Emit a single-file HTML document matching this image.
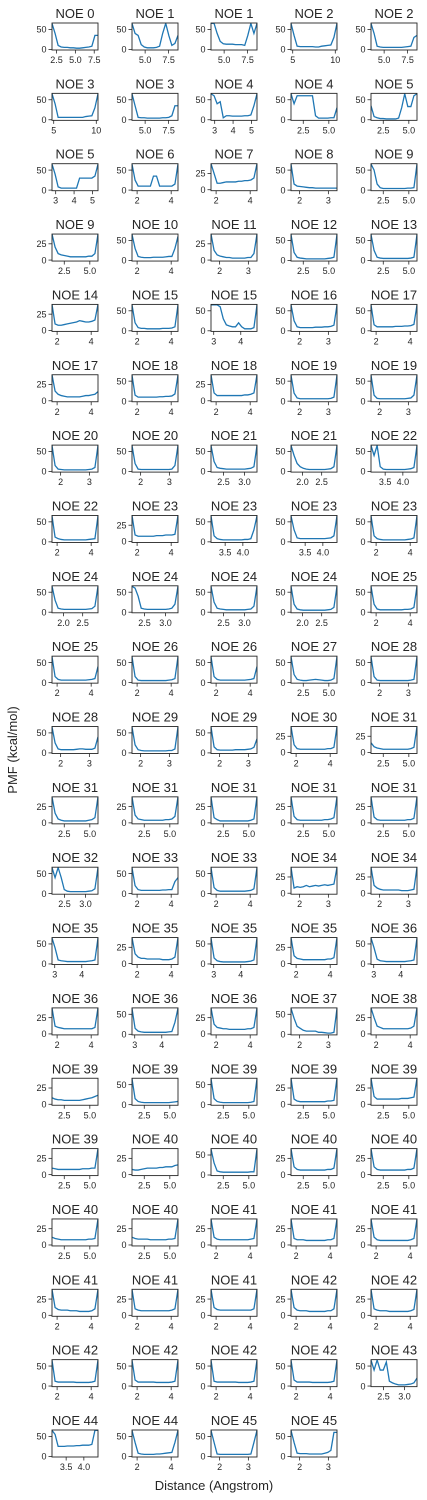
<!DOCTYPE html>
<html><head><meta charset="utf-8"><style>
html,body{margin:0;padding:0;background:#fff;}
svg{display:block;font-family:"Liberation Sans","DejaVu Sans",sans-serif;}
</style></head><body>
<svg id="chart" width="427" height="1500" viewBox="0 0 427 1500" xmlns="http://www.w3.org/2000/svg">
<text x="0" y="0" transform="translate(17,750) rotate(-90)" text-anchor="middle" font-size="13" fill="#262626">PMF (kcal/mol)</text>
<text x="214" y="1490" text-anchor="middle" font-size="13" fill="#262626">Distance (Angstrom)</text>
</svg>
<script>
const titles=["NOE 0","NOE 1","NOE 1","NOE 2","NOE 2","NOE 3","NOE 3","NOE 4","NOE 4","NOE 5","NOE 5","NOE 6","NOE 7","NOE 8","NOE 9","NOE 9","NOE 10","NOE 11","NOE 12","NOE 13","NOE 14","NOE 15","NOE 15","NOE 16","NOE 17","NOE 17","NOE 18","NOE 18","NOE 19","NOE 19","NOE 20","NOE 20","NOE 21","NOE 21","NOE 22","NOE 22","NOE 23","NOE 23","NOE 23","NOE 23","NOE 24","NOE 24","NOE 24","NOE 24","NOE 25","NOE 25","NOE 26","NOE 26","NOE 27","NOE 28","NOE 28","NOE 29","NOE 29","NOE 30","NOE 31","NOE 31","NOE 31","NOE 31","NOE 31","NOE 31","NOE 32","NOE 33","NOE 33","NOE 34","NOE 34","NOE 35","NOE 35","NOE 35","NOE 35","NOE 36","NOE 36","NOE 36","NOE 36","NOE 37","NOE 38","NOE 39","NOE 39","NOE 39","NOE 39","NOE 39","NOE 39","NOE 40","NOE 40","NOE 40","NOE 40","NOE 40","NOE 40","NOE 41","NOE 41","NOE 41","NOE 41","NOE 41","NOE 41","NOE 42","NOE 42","NOE 42","NOE 42","NOE 42","NOE 42","NOE 43","NOE 44","NOE 44","NOE 45","NOE 45"];
// x tick set code per panel
const xTickSets={A:[2.5,5,7.5],B:[5,7.5],C:[5,10],D:[3,4,5],E:[2.5,5],F:[2,4],G:[2,3],H:[3,4],I:[2.5,3],J:[2,2.5],K:[3.5,4]};
const xDomains={A:[1.9,8.0],B:[3.6,8.5],C:[4.8,10.2],D:[2.8,5.3],E:[1.3,5.8],F:[1.7,4.4],G:[1.7,3.3],H:[2.9,4.6],I:[2.2,3.3],J:[1.7,2.9],K:[3.1,4.4]};
const xTickCodes="ABBCB CBDEE DFFGE EFGEE FFHGF FFFGG GGIJK FFKKF JIIJF FFFEG GGGFE EEEEE IFFGG HFHFH FHFGF EEEEE EEEEE EEFFF FFFFF FFFFI KFGG".replace(/ /g,"");
// y tick max: 50 -> ticks 0,50 ; 25 -> ticks 0,25
const yTickMax=[50,50,50,50,50, 50,50,50,50,50, 50,50,25,50,50, 25,50,25,50,50, 25,50,50,50,50, 25,50,25,50,50, 50,50,50,50,50, 50,25,50,50,50, 50,50,50,50,50, 50,50,50,50,50, 50,50,50,25,25, 25,25,25,25,25, 50,50,50,25,25, 50,25,50,25,50, 25,50,25,50,25, 25,50,50,25,25, 25,25,50,25,25, 25,25,25,25,25, 25,25,25,25,25, 50,50,50,50,50, 50,50,50,50];
const seriesY=[
[65,40,10,6,5,5,4,4,3,3,4,5,6,8,35,35],
[65,40,35,12,6,4,4,4,5,8,40,65,35,10,15,35],
[65,65,40,20,14,13,13,13,12,12,12,10,35,65,40,65],
[65,35,8,7,7,7,7,7,6,6,8,9,10,11,30,65],
[65,40,8,6,5,5,5,5,5,5,5,6,7,8,30,35],
[65,40,6,6,6,6,6,6,6,6,6,8,9,10,30,65],
[65,35,6,5,5,4,4,4,4,4,5,5,6,10,35,35],
[65,60,40,45,5,10,10,9,9,9,9,10,10,12,35,65],
[65,40,60,60,60,60,60,60,10,4,4,4,4,5,5,30],
[35,8,5,3,3,2,2,2,2,4,30,65,33,33,60,65],
[65,40,8,5,5,5,5,5,5,30,30,30,30,30,35,65],
[65,25,10,10,10,10,10,35,35,10,10,10,10,10,15,65],
[40,25,10,10,11,12,12,12,12,13,13,14,14,15,18,40],
[65,15,10,9,8,7,6,6,5,5,5,5,5,5,5,5],
[65,50,15,6,4,4,4,4,4,4,4,4,5,5,6,65],
[40,20,10,8,7,6,5,5,5,5,5,5,6,6,10,40],
[65,30,10,8,7,7,7,8,8,8,8,9,10,10,30,60],
[40,15,8,6,5,4,4,3,3,3,3,3,4,4,10,40],
[65,20,8,6,5,4,4,4,4,4,4,4,5,6,8,65],
[65,25,8,6,5,5,5,5,5,5,5,5,5,6,8,65],
[40,10,8,8,9,10,11,12,13,15,14,13,13,14,16,40],
[65,20,8,6,6,5,5,5,5,5,6,6,6,7,10,65],
[65,65,65,60,30,15,12,10,10,20,10,5,5,5,8,65],
[65,25,10,8,8,8,8,8,9,9,9,10,10,11,14,65],
[65,15,10,10,10,10,10,10,11,11,11,12,12,13,16,65],
[40,15,10,8,7,6,6,6,6,6,7,8,8,9,10,14],
[65,15,10,10,10,10,10,10,10,11,11,12,12,13,18,65],
[40,12,8,8,8,8,8,8,8,8,8,9,9,10,12,40],
[65,20,8,6,6,6,6,6,6,6,6,6,6,7,10,65],
[65,15,7,6,6,6,6,6,6,6,6,6,7,8,15,65],
[65,15,6,5,4,4,4,4,4,4,4,4,5,6,10,65],
[65,20,6,5,5,5,5,5,5,5,5,5,5,6,15,65],
[65,25,10,8,7,6,6,6,6,6,6,6,7,8,12,65],
[65,40,20,12,8,6,5,5,5,5,5,5,6,7,12,65],
[65,40,65,12,6,5,5,5,5,5,5,5,6,7,10,65],
[65,12,8,6,5,5,5,5,5,5,5,5,6,7,8,65],
[40,10,8,8,8,8,8,8,9,9,9,10,10,10,11,40],
[65,15,8,6,5,5,5,5,5,5,5,6,6,8,30,65],
[65,30,10,8,8,8,8,8,8,8,8,8,9,10,15,65],
[65,15,8,6,5,5,5,5,5,5,5,5,6,7,10,65],
[65,30,10,8,7,7,7,7,7,7,7,7,8,9,15,65],
[65,60,40,10,8,7,7,7,7,7,7,7,8,10,20,65],
[65,25,10,8,7,6,6,6,6,6,6,6,7,8,15,65],
[65,20,8,6,5,5,5,5,5,5,5,5,6,7,12,65],
[65,20,8,6,6,6,6,6,6,6,6,7,7,8,12,65],
[65,15,8,6,6,6,6,6,6,6,6,6,7,8,10,40],
[65,15,6,5,5,5,5,5,5,5,5,5,6,7,10,65],
[65,15,8,6,6,6,6,6,6,6,6,6,7,8,10,40],
[65,20,8,6,5,5,6,7,8,7,6,5,5,6,10,65],
[65,15,6,5,5,5,5,5,5,5,5,5,5,6,8,65],
[65,25,10,8,8,8,8,8,9,10,10,9,9,9,12,40],
[65,20,8,6,5,5,5,5,5,5,5,5,6,6,10,65],
[65,15,8,7,7,7,7,7,8,8,8,8,9,10,14,35],
[40,12,6,5,5,5,5,5,5,5,5,5,6,6,8,40],
[15,9,7,6,5,5,5,5,5,5,5,5,5,6,8,40],
[40,15,6,4,3,3,3,3,3,3,3,3,4,5,8,40],
[40,12,6,5,4,4,4,4,4,4,4,5,5,6,10,40],
[40,8,5,3,3,3,3,3,3,3,3,3,3,4,6,40],
[40,10,5,4,4,4,4,4,4,4,4,5,5,6,8,40],
[40,9,5,4,4,4,4,4,4,4,4,4,5,5,7,40],
[65,40,65,40,10,6,5,5,5,5,5,5,6,7,12,65],
[65,20,10,8,8,8,8,8,8,8,9,9,10,10,30,40],
[65,15,8,6,6,6,6,6,6,6,6,6,7,8,12,65],
[40,8,10,9,10,12,10,11,12,11,12,13,12,13,14,40],
[40,12,8,6,5,5,5,5,5,5,4,4,4,5,6,40],
[65,40,10,8,7,6,6,6,6,6,6,6,7,8,10,65],
[40,15,10,8,8,7,7,7,7,7,6,6,6,7,10,40],
[65,15,8,6,5,5,5,5,5,5,5,5,6,7,10,65],
[40,12,8,7,6,6,6,6,6,6,6,6,7,7,9,40],
[65,40,12,8,7,6,6,6,6,6,6,6,7,8,10,65],
[40,12,10,9,8,8,8,8,8,8,8,8,8,8,10,40],
[65,15,8,6,5,5,5,5,5,5,5,5,6,7,30,65],
[40,15,10,9,8,8,7,7,7,7,7,7,8,8,10,40],
[65,40,20,15,10,8,8,8,8,5,5,4,3,3,5,65],
[40,25,12,10,8,8,8,8,8,8,8,8,8,9,12,40],
[10,8,7,7,6,6,6,6,6,6,7,8,9,10,12,14],
[65,15,8,6,5,5,5,5,5,5,5,5,5,6,7,8],
[65,15,8,6,5,5,5,5,5,5,5,5,5,6,8,65],
[40,8,5,4,4,4,4,4,4,4,4,4,5,5,6,40],
[40,12,8,8,8,8,8,8,8,8,9,9,9,10,11,40],
[10,9,8,8,8,8,8,8,8,8,9,9,9,10,10,40],
[8,7,7,8,9,10,10,10,10,11,11,12,12,12,14,15],
[65,30,10,8,7,7,7,7,7,7,7,7,7,8,8,65],
[40,12,8,7,7,7,7,7,7,7,7,7,8,8,10,40],
[40,12,8,7,7,7,7,7,7,7,7,7,8,8,10,40],
[12,10,9,8,8,8,8,8,8,8,8,8,9,9,10,40],
[12,10,9,9,9,9,8,8,8,8,8,8,9,9,10,40],
[40,12,9,8,8,8,8,8,8,8,8,8,8,9,10,40],
[40,10,8,8,8,7,7,7,7,7,7,7,8,8,10,40],
[40,12,8,7,7,7,7,7,7,7,7,7,7,8,10,40],
[40,12,9,8,8,8,7,7,7,6,6,6,6,7,10,40],
[40,10,8,7,7,7,7,7,7,7,7,7,7,8,10,40],
[40,12,9,8,8,8,8,8,8,8,8,8,8,8,10,40],
[40,12,8,7,7,7,6,6,6,6,6,6,7,7,10,40],
[40,10,8,7,7,7,6,6,6,6,6,6,6,7,9,40],
[65,12,10,10,10,10,10,10,9,9,9,9,9,10,12,65],
[65,15,10,10,10,10,10,10,9,9,9,9,9,10,12,65],
[65,12,10,10,10,10,10,10,10,9,9,9,9,10,12,65],
[65,15,10,10,10,10,10,9,9,9,9,9,9,10,12,65],
[65,40,65,40,40,60,12,8,5,3,3,3,4,5,8,20],
[65,55,25,25,25,26,26,26,27,27,28,28,28,30,65,65],
[65,35,8,6,5,5,5,5,6,6,7,8,9,10,35,65],
[65,35,6,5,5,5,5,5,5,5,5,5,5,6,35,65],
[65,35,8,7,7,7,6,6,6,6,6,8,10,15,60,60]
];
const colX=[52,132,211,291,371];
const PW=46, PH=27, ROW0=23, ROWSTEP=70.35;
const svg=document.getElementById('chart');
const NS='http://www.w3.org/2000/svg';
function mk(tag,attrs){const e=document.createElementNS(NS,tag);for(const k in attrs)e.setAttribute(k,attrs[k]);return e;}
const defs=mk('defs',{});svg.appendChild(defs);
function fmt(v,code){return (code==='A'||code==='B'||code==='E'||code==='I'||code==='J'||code==='K')?v.toFixed(1):String(v);}
titles.forEach((t,i)=>{
  const r=Math.floor(i/5),c=i%5;
  const x0=colX[c], y0=ROW0+r*ROWSTEP;
  const code=xTickCodes[i];
  const dom=xDomains[code];
  const ymax=yTickMax[i]===50?66:40, ymin=-1.5;
  const sx=v=>x0+(v-dom[0])/(dom[1]-dom[0])*PW;
  const sy=v=>y0+PH-(v-ymin)/(ymax-ymin)*PH;
  const g=mk('g',{});
  
  
  svg.appendChild(g);
  const cp=mk('clipPath',{id:'cp'+i});cp.appendChild(mk('rect',{x:x0,y:y0,width:PW,height:PH}));defs.appendChild(cp);
  const tt=mk('text',{x:x0+PW/2,y:y0-5,'text-anchor':'middle','font-size':13,fill:'#262626'});
  
  
  tt.textContent=t;g.appendChild(tt);
  const vals=seriesY[i];
  const pts=vals.map((v,k)=>sx(dom[0]+(dom[1]-dom[0])*k/(vals.length-1)).toFixed(2)+','+sy(v).toFixed(2)).join(' ');
  const line=mk('polyline',{points:pts,fill:'none',stroke:'#1f77b4','stroke-width':1.3,'clip-path':'url(#cp'+i+')'});
  
  
  g.appendChild(line);
  const box=mk('rect',{x:x0,y:y0,width:PW,height:PH,fill:'none',stroke:'#262626','stroke-width':0.9});
  
  
  g.appendChild(box);
  [0,yTickMax[i]].forEach(v=>{
    const yy=sy(v);
    g.appendChild(mk('line',{x1:x0-3.5,x2:x0,y1:yy,y2:yy,stroke:'#262626','stroke-width':0.8}));
    const tl=mk('text',{x:x0-5.5,y:yy+3.2,'text-anchor':'end','font-size':9,fill:'#262626'});
    
    
    tl.textContent=String(v);g.appendChild(tl);
  });
  xTickSets[code].forEach(v=>{
    const xx=sx(v);
    g.appendChild(mk('line',{x1:xx,x2:xx,y1:y0+PH,y2:y0+PH+3.5,stroke:'#262626','stroke-width':0.8}));
    const tl=mk('text',{x:xx,y:y0+PH+13,'text-anchor':'middle','font-size':9,fill:'#262626'});
    
    
    tl.textContent=fmt(v,code);g.appendChild(tl);
  });
});
</script>
</body></html>
